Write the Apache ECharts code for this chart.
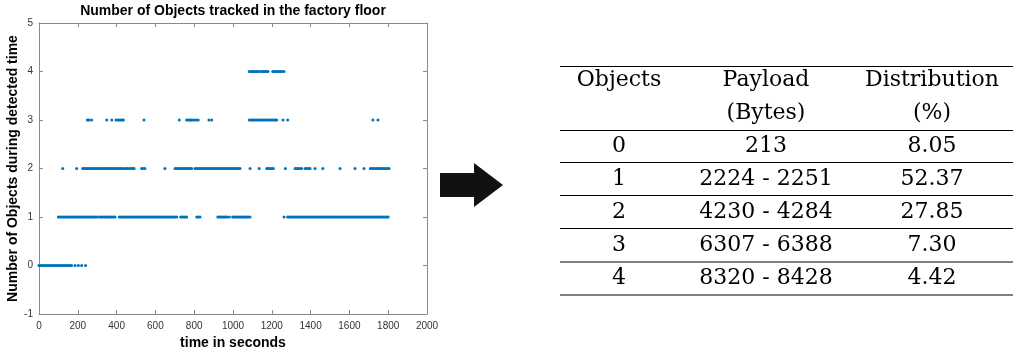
<!DOCTYPE html>
<html>
<head>
<meta charset="utf-8">
<script src="https://cdn.jsdelivr.net/npm/echarts@6/dist/echarts.min.js"></script>
<style>
  html, body { margin: 0; padding: 0; background: #fff; }
  #chart { width: 1013px; height: 352px; }
</style>
</head>
<body>
<div id="chart"></div>
<script>
// times (s) at which each object count was detected
const level0 = [0, 8, 16, 24, 32, 40, 48, 56, 64, 72, 80, 88, 96, 104, 112, 120, 128, 136, 144, 152, 160, 168,
  186, 203, 220, 240];
const level1 = [100, 108, 116, 124, 132, 140, 148, 156, 164, 172, 180, 188, 196, 204, 212, 220, 228, 236, 244, 252,
  260, 268, 276, 284, 292, 300, 312, 320, 328, 336, 344, 352, 360, 368, 376, 384, 392,
  414, 422, 430, 438, 446, 454, 462, 470, 478, 486, 494, 502, 510, 518, 526, 534, 542, 550, 558, 566, 574, 582,
  590, 598, 606, 614, 622, 630, 638, 646, 654, 662, 670, 678, 686, 694, 702, 710,
  730, 738, 746, 754, 761,
  813, 821, 830,
  922, 930, 938, 946, 954, 962, 968, 981, 998, 1006, 1014, 1022, 1030, 1038, 1046, 1054, 1062, 1070, 1078, 1088,
  1263,
  1282, 1290, 1298, 1306, 1314, 1322, 1330, 1338, 1346, 1354, 1362, 1370, 1378, 1386, 1394, 1402, 1410, 1418,
  1426, 1434, 1442, 1450, 1458, 1466, 1474, 1482, 1490, 1498, 1506, 1514, 1522, 1530, 1538, 1546, 1554, 1562,
  1570, 1578, 1586, 1594, 1602, 1610, 1618, 1626, 1634, 1642, 1650, 1658, 1666, 1674, 1682, 1690, 1698, 1706,
  1714, 1722, 1730, 1738, 1746, 1754, 1762, 1770, 1778, 1786, 1794, 1800];
const level2 = [122, 194,
  225, 233, 241, 249, 257, 265, 273, 280, 289, 297, 305, 312, 318,
  328, 336, 344, 352, 360, 368, 376, 384, 392, 400, 408, 416, 424, 432, 443,
  452, 459, 469, 477, 484, 490,
  529, 537, 546,
  649,
  701, 709, 717, 725, 733, 741, 749, 757, 765, 773, 781, 787,
  804, 812, 820, 828, 836, 844, 852, 860, 868, 876, 884, 892, 900, 908, 916, 924, 932, 940, 948, 956, 964, 972,
  980, 988, 996, 1004, 1012, 1020, 1028, 1036,
  1088, 1135,
  1174, 1182, 1190, 1200, 1208,
  1270,
  1320, 1328, 1336, 1344, 1354, 1372, 1380, 1388, 1397, 1423, 1463,
  1552, 1629, 1675,
  1708, 1716, 1724, 1732, 1740, 1748, 1756, 1764, 1772, 1780, 1788, 1796, 1804];
const level3 = [249, 257, 271, 349, 375, 397, 405, 413, 420, 428, 435, 541, 723,
  761, 769, 777, 784, 790, 800, 810, 821, 876, 890,
  1084, 1092, 1100, 1108, 1116, 1124, 1132, 1140, 1148, 1156, 1164, 1172, 1180, 1188, 1196, 1204, 1212, 1220, 1225,
  1258, 1282, 1721, 1747];
const level4 = [1084, 1092, 1100, 1108, 1116, 1124, 1130, 1142, 1150, 1158, 1166, 1174, 1180,
  1205, 1213, 1221, 1229, 1237, 1245, 1253, 1263];

const xTicks = [0, 200, 400, 600, 800, 1000, 1200, 1400, 1600, 1800, 2000];
const yTicks = [-1, 0, 1, 2, 3, 4, 5];

// table on the right
const tableHeader1 = ['Objects', 'Payload', 'Distribution'];
const tableHeader2 = ['', '(Bytes)', '(%)'];
const tableObjects = ['0', '1', '2', '3', '4'];
const tablePayload = ['213', '2224 - 2251', '4230 - 4284', '6307 - 6388', '8320 - 8428'];
const tableDistribution = ['8.05', '52.37', '27.85', '7.30', '4.42'];

const levels = [level0, level1, level2, level3, level4];
const points = [];
levels.forEach((times, count) => times.forEach(t => points.push([t, count])));

const chart = echarts.init(document.getElementById('chart'), null, { renderer: 'canvas' });

const axisGray = '#8a8a8a';
const labelGray = '#333';
const sans = '"Liberation Sans", Arial, sans-serif';
const serif = '"DejaVu Serif", serif';

const colX = [619, 766, 932];
const headerY = [80, 113];
const rowY = [146, 179, 212, 245, 278];
const lineY = [66.5, 130.5, 162.5, 195.5, 228.5, 262, 295];

const graphics = [];
graphics.push({
  type: 'text',
  x: 233, y: 11,
  style: { text: 'Number of Objects tracked in the factory floor', font: 'bold 14px ' + sans,
    fill: '#000', textAlign: 'center', textVerticalAlign: 'middle' }
});
// arrow
graphics.push({
  type: 'polygon',
  shape: { points: [[440, 173], [474, 173], [474, 163], [503, 185], [474, 207], [474, 197], [440, 197]] },
  style: { fill: '#111' }
});
lineY.forEach(y => graphics.push({
  type: 'line', shape: { x1: 560, y1: y, x2: 1013, y2: y },
  style: { stroke: '#000', lineWidth: 1 }
}));
function cell(text, x, y) {
  graphics.push({
    type: 'text', x: x, y: y,
    style: { text: text, font: '22px ' + serif, fill: '#000', textAlign: 'center', textVerticalAlign: 'middle' }
  });
}
tableHeader1.forEach((t, i) => cell(t, colX[i], headerY[0]));
tableHeader2.forEach((t, i) => cell(t, colX[i], headerY[1]));
tableObjects.forEach((t, i) => {
  cell(t, colX[0], rowY[i]);
  cell(tablePayload[i], colX[1], rowY[i]);
  cell(tableDistribution[i], colX[2], rowY[i]);
});

const baseX = {
  type: 'value', min: xTicks[0], max: xTicks[xTicks.length - 1], interval: 200,
  axisLine: { show: true, onZero: false, lineStyle: { color: axisGray, width: 1 } },
  axisTick: { show: true, inside: true, length: 4, lineStyle: { color: axisGray } },
  splitLine: { show: false }
};
const baseY = {
  type: 'value', min: yTicks[0], max: yTicks[yTicks.length - 1], interval: 1,
  axisLine: { show: true, onZero: false, lineStyle: { color: axisGray, width: 1 } },
  axisTick: { show: true, inside: true, length: 4, lineStyle: { color: axisGray } },
  splitLine: { show: false }
};

chart.setOption({
  backgroundColor: '#fff',
  animation: false,
  grid: { left: 39, top: 23, width: 388, height: 291, containLabel: false, outerBoundsMode: 'none' },
  xAxis: [
    Object.assign({}, baseX, {
      position: 'bottom',
      name: 'time in seconds', nameLocation: 'middle', nameGap: 21,
      nameTextStyle: { fontFamily: sans, fontWeight: 'bold', fontSize: 14, color: '#000' },
      axisLabel: { color: labelGray, fontFamily: sans, fontSize: 10, margin: 7,
        showMinLabel: true, showMaxLabel: true, formatter: v => String(v) }
    }),
    Object.assign({}, baseX, { position: 'top', axisLabel: { show: false } })
  ],
  yAxis: [
    Object.assign({}, baseY, {
      position: 'left',
      name: 'Number of Objects during detected time', nameLocation: 'middle', nameGap: 18,
      nameTextStyle: { fontFamily: sans, fontWeight: 'bold', fontSize: 14, color: '#000' },
      axisLabel: { color: labelGray, fontFamily: sans, fontSize: 10, margin: 6,
        showMinLabel: true, showMaxLabel: true, formatter: v => String(v) }
    }),
    Object.assign({}, baseY, { position: 'right', axisLabel: { show: false } })
  ],
  series: [{
    type: 'scatter',
    data: points,
    symbol: 'circle',
    symbolSize: 3,
    itemStyle: { color: '#0072BD', opacity: 1 },
    emphasis: { disabled: true },
    silent: true
  }],
  graphic: graphics
});
</script>
</body>
</html>
